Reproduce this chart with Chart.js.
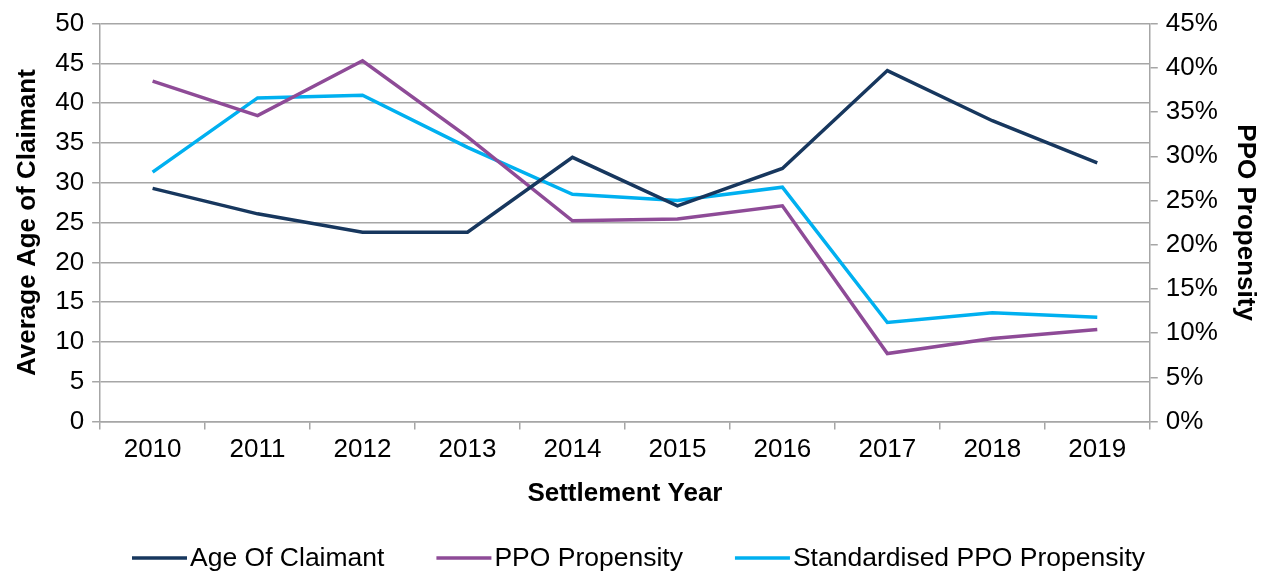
<!DOCTYPE html>
<html>
<head>
<meta charset="utf-8">
<script src="https://cdn.jsdelivr.net/npm/chart.js@4"></script>
<style>
  html, body { margin: 0; padding: 0; background: #fff; }
  #wrap { width: 1265px; height: 574px; }
</style>
</head>
<body>
<div id="wrap"><canvas id="ageChart"></canvas></div>
<script>
const years = ['2010', '2011', '2012', '2013', '2014', '2015', '2016', '2017', '2018', '2019'];
const ageOfClaimant = [29.3, 26.1, 23.8, 23.8, 33.2, 27.1, 31.8, 44.1, 37.8, 32.5];
const ppoPropensity = [0.385, 0.346, 0.408, 0.322, 0.227, 0.229, 0.244, 0.077, 0.094, 0.104];
const standardisedPpo = [0.282, 0.366, 0.369, 0.310, 0.257, 0.250, 0.265, 0.112, 0.123, 0.118];

document.addEventListener('DOMContentLoaded', () => {
    const family = '"Liberation Sans", Arial, sans-serif';
    const font = { family, size: 26 };
    const bold = { ...font, weight: 'bold' };
    const grey = '#a6a6a6';
    const el = document.getElementById('ageChart');

    // legend drawn by hand: long line swatch with the text right next to it
    const lineLegend = {
        id: 'lineLegend',
        afterDraw(chart) {
            const ctx = chart.ctx;
            const sets = chart.data.datasets;
            const swatch = 55, gap = 3, between = 52, y = 558;
            ctx.save();
            ctx.font = `26.5px ${family}`;
            const widths = sets.map((ds) => ctx.measureText(ds.label).width);
            const total = widths.reduce((a, w) => a + swatch + gap + w, 0) + between * (sets.length - 1);
            let x = (chart.width - total) / 2 + 6;
            sets.forEach((ds, i) => {
                ctx.strokeStyle = ds.borderColor;
                ctx.lineWidth = 3.5;
                ctx.beginPath();
                ctx.moveTo(x, y);
                ctx.lineTo(x + swatch, y);
                ctx.stroke();
                ctx.fillStyle = '#000';
                ctx.textBaseline = 'middle';
                ctx.fillText(ds.label, x + swatch + gap, y + 1);
                x += swatch + gap + widths[i] + between;
            });
            ctx.restore();
        },
    };

    new Chart(el, {
        type: 'line',
        data: {
            labels: years,
            datasets: [
                { label: 'Age Of Claimant', data: ageOfClaimant, borderColor: '#17375e', yAxisID: 'y' },
                { label: 'PPO Propensity', data: ppoPropensity, borderColor: '#8e4b97', yAxisID: 'y1' },
                { label: 'Standardised PPO Propensity', data: standardisedPpo, borderColor: '#00b0f0', yAxisID: 'y1' },
            ],
        },
        plugins: [lineLegend],
        options: {
            responsive: true,
            maintainAspectRatio: false,
            animation: false,
            elements: { line: { borderWidth: 3.5, tension: 0 }, point: { radius: 0 } },
            layout: { padding: { left: 8, right: 2, top: 16, bottom: 61 } },
            plugins: {
                tooltip: { enabled: false },
                legend: { display: false },
            },
            scales: {
                x: {
                    offset: true,
                    grid: { offset: true, drawOnChartArea: false, color: grey, lineWidth: 1.5, tickLength: 8 },
                    border: { color: grey, width: 1.5 },
                    ticks: { color: '#000', font, padding: 5, maxRotation: 0 },
                    title: { display: true, text: 'Settlement Year', color: '#000', font: bold, padding: { top: 7, bottom: 4 } },
                },
                y: {
                    position: 'left',
                    min: 0, max: 50,
                    ticks: { stepSize: 5, color: '#000', font, padding: 8 },
                    grid: { color: grey, lineWidth: 1.5, tickLength: 8 },
                    border: { color: grey, width: 1.5 },
                    title: { display: true, text: 'Average Age of Claimant', color: '#000', font: bold, padding: { bottom: 4 } },
                },
                y1: {
                    position: 'right',
                    min: 0, max: 0.45,
                    ticks: { stepSize: 0.05, color: '#000', font, padding: 8, callback: (v) => Math.round(v * 100) + '%' },
                    grid: { drawOnChartArea: false, color: grey, lineWidth: 1.5, tickLength: 8 },
                    border: { color: grey, width: 1.5 },
                    title: { display: true, text: 'PPO Propensity', color: '#000', font: bold, padding: { top: 2 } },
                },
            },
        },
    });
});
</script>
</body>
</html>
